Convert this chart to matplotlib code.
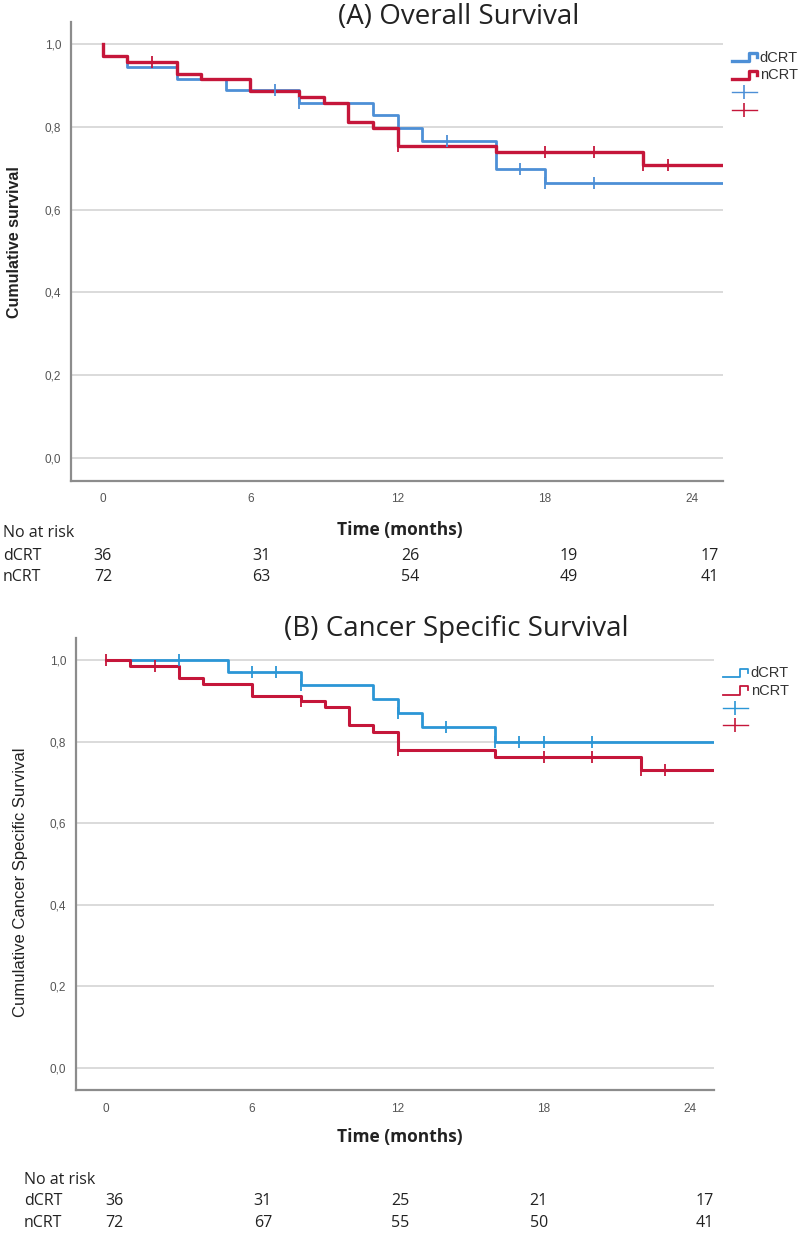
import numpy as np
import matplotlib
matplotlib.use("Agg")
import matplotlib.pyplot as plt
from matplotlib.lines import Line2D
from matplotlib.legend_handler import HandlerBase
from matplotlib.transforms import blended_transform_factory

# ---- data ----
groups = ["dCRT", "nCRT"]

# (A) overall survival: event times and survival after each step
os_dcrt_t = [0, 0, 1, 3, 5, 8, 11, 12, 13, 16, 18]
os_dcrt_s = [1.0, 0.972, 0.944, 0.917, 0.889, 0.859, 0.829, 0.798, 0.766, 0.698, 0.664]
os_dcrt_cens = [7, 8, 14, 17, 18, 20]

os_ncrt_t = [0, 0, 1, 3, 4, 6, 8, 9, 10, 11, 12, 16, 22]
os_ncrt_s = [1.0, 0.972, 0.958, 0.929, 0.915, 0.887, 0.873, 0.859, 0.813, 0.798, 0.755, 0.740, 0.708]
os_ncrt_cens = [2, 12, 18, 20, 22, 23]

# (B) cancer specific survival
css_dcrt_t = [0, 5, 8, 11, 12, 13, 16]
css_dcrt_s = [1.0, 0.970, 0.938, 0.905, 0.871, 0.836, 0.800]
css_dcrt_cens = [3, 6, 7, 8, 12, 14, 16, 17, 18, 20]

css_ncrt_t = [0, 1, 3, 4, 6, 8, 9, 10, 11, 12, 16, 22]
css_ncrt_s = [1.0, 0.985, 0.955, 0.941, 0.911, 0.899, 0.884, 0.841, 0.823, 0.778, 0.763, 0.730]
css_ncrt_cens = [0, 2, 8, 12, 18, 20, 22, 23]

risk_os_dcrt = [36, 31, 26, 19, 17]
risk_os_ncrt = [72, 63, 54, 49, 41]
risk_css_dcrt = [36, 31, 25, 21, 17]
risk_css_ncrt = [72, 67, 55, 50, 41]

xticks = [0, 6, 12, 18, 24]
yticks = [0.0, 0.2, 0.4, 0.6, 0.8, 1.0]

RED = "#c5163a"
BLUE_A = "#4d8fd6"
BLUE_B = "#2b96d6"
SANS = ["Liberation Sans", "DejaVu Sans"]
HUMAN = ["Open Sans", "DejaVu Sans"]


class StepHandler(HandlerBase):
    def create_artists(self, legend, orig_handle, xdescent, ydescent,
                       width, height, fontsize, trans):
        x0 = -xdescent
        x1 = x0 + width
        xm = x0 + 0.7 * width
        lo = -ydescent + 0.05 * height
        hi = -ydescent + 0.85 * height
        mid = -ydescent + 0.45 * height
        ln = Line2D([x0, xm, xm, x1, x1], [lo, lo, hi, hi, mid],
                    color=orig_handle.get_color(), lw=orig_handle.get_linewidth(),
                    transform=trans)
        return [ln]


def surv_at(t, times, surv):
    idx = np.searchsorted(times, t, side="right") - 1
    return np.array(surv)[idx]


def km_panel(ax, curves, xmax, blue, lw_leg):
    for times, surv, cens, color, lw in curves:
        tt = list(times) + [xmax]
        ss = list(surv) + [surv[-1]]
        ax.step(tt, ss, where="post", color=color, lw=lw, zorder=3)
        ax.plot(cens, surv_at(cens, times, surv), ls="none", marker="|",
                ms=9, mew=1.3, color=color, zorder=4)

    ax.set_yticks(yticks)
    ax.set_yticklabels([f"{v:.1f}".replace(".", ",") for v in yticks],
                       family=SANS, fontsize=8.5, color="#555555")
    ax.set_xticks(xticks)
    ax.set_xticklabels([str(v) for v in xticks], family=SANS, fontsize=8.5,
                       color="#555555")
    ax.tick_params(axis="both", length=0)
    ax.tick_params(axis="y", pad=7)
    ax.tick_params(axis="x", pad=9)
    ax.grid(axis="y", color="#d4d4d4", lw=1.2)
    ax.set_axisbelow(True)
    for s in ["top", "right"]:
        ax.spines[s].set_visible(False)
    for s in ["left", "bottom"]:
        ax.spines[s].set_color("#8c8c8c")
        ax.spines[s].set_linewidth(1.6)

    handles = [Line2D([], [], color=blue, lw=lw_leg),
               Line2D([], [], color=RED, lw=lw_leg),
               Line2D([], [], color=blue, lw=1.0, marker="|", ms=10, mew=1.2),
               Line2D([], [], color=RED, lw=1.0, marker="|", ms=10, mew=1.2)]
    leg = ax.legend(handles, groups + ["", ""], loc="upper left",
                    bbox_to_anchor=(1.005, 0.95), frameon=False,
                    handlelength=1.7, handletextpad=0.2, labelspacing=0.25,
                    borderaxespad=0, prop={"family": SANS, "size": 10.5},
                    handler_map={handles[0]: StepHandler(), handles[1]: StepHandler()})
    for t in leg.get_texts():
        t.set_color("#333333")


fig = plt.figure(figsize=(8, 12.34), dpi=100)
H = 1234.0

# ---- (A) ----
axA = fig.add_axes([71 / 800, 1 - 481 / H, 652 / 800, 459 / H])
axA.set_xlim(-1.3, 25.25)
axA.set_ylim(-0.056, 1.054)
km_panel(axA, [(os_dcrt_t, os_dcrt_s, os_dcrt_cens, BLUE_A, 2.0),
               (os_ncrt_t, os_ncrt_s, os_ncrt_cens, RED, 2.4)],
         25.25, BLUE_A, 2.4)
axA.set_ylabel("Cumulative survival", family=SANS, fontsize=11.5, weight="bold",
               color="#222222")
axA.yaxis.set_label_coords(-0.075, 0.52)
fig.text(459 / 800, 1 - 17 / H, "(A) Overall Survival", family=HUMAN,
         fontsize=20, ha="center", va="center", color="#222222")
fig.text(400 / 800, 1 - 530 / H, "Time (months)", family=HUMAN, fontsize=12.5,
         weight="bold", ha="center", va="center", color="#222222")

trA = blended_transform_factory(axA.transData, fig.transFigure)
risk_xA = [0, 6.45, 12.5, 18.95, 24.7]
fig.text(3 / 800, 1 - 533 / H, "No at risk", family=HUMAN, fontsize=11.5,
         va="center", color="#222222")
for row, (name, vals) in enumerate(zip(groups, [risk_os_dcrt, risk_os_ncrt])):
    y = 1 - (556 + 21 * row) / H
    fig.text(3 / 800, y, name, family=HUMAN, fontsize=11.5, va="center", color="#222222")
    for xv, n in zip(risk_xA, vals):
        fig.text(xv, y, str(n), transform=trA, family=HUMAN, fontsize=11.5,
                 ha="center", va="center", color="#222222")

# ---- (B) ----
axB = fig.add_axes([76 / 800, 1 - 1090 / H, 638 / 800, 452 / H])
axB.set_xlim(-1.23, 25.0)
axB.set_ylim(-0.055, 1.054)
km_panel(axB, [(css_dcrt_t, css_dcrt_s, css_dcrt_cens, BLUE_B, 2.0),
               (css_ncrt_t, css_ncrt_s, css_ncrt_cens, RED, 2.2)],
         25.0, BLUE_B, 1.3)
axB.set_ylabel("Cumulative Cancer Specific Survival", family=SANS, fontsize=12,
               color="#222222")
axB.yaxis.set_label_coords(-0.075, 0.46)
fig.text(456 / 800, 1 - 629 / H, "(B) Cancer Specific Survival", family=HUMAN,
         fontsize=20, ha="center", va="center", color="#222222")
fig.text(400 / 800, 1 - 1137 / H, "Time (months)", family=HUMAN, fontsize=12.5,
         weight="bold", ha="center", va="center", color="#222222")

trB = blended_transform_factory(axB.transData, fig.transFigure)
risk_xB = [0.33, 6.45, 12.1, 17.8, 24.6]
fig.text(24 / 800, 1 - 1180 / H, "No at risk", family=HUMAN, fontsize=11.5,
         va="center", color="#222222")
for row, (name, vals) in enumerate(zip(groups, [risk_css_dcrt, risk_css_ncrt])):
    y = 1 - (1201 + 22 * row) / H
    fig.text(24 / 800, y, name, family=HUMAN, fontsize=11.5, va="center", color="#222222")
    for xv, n in zip(risk_xB, vals):
        fig.text(xv, y, str(n), transform=trB, family=HUMAN, fontsize=11.5,
                 ha="center", va="center", color="#222222")

fig.savefig("out.png", dpi=100)
